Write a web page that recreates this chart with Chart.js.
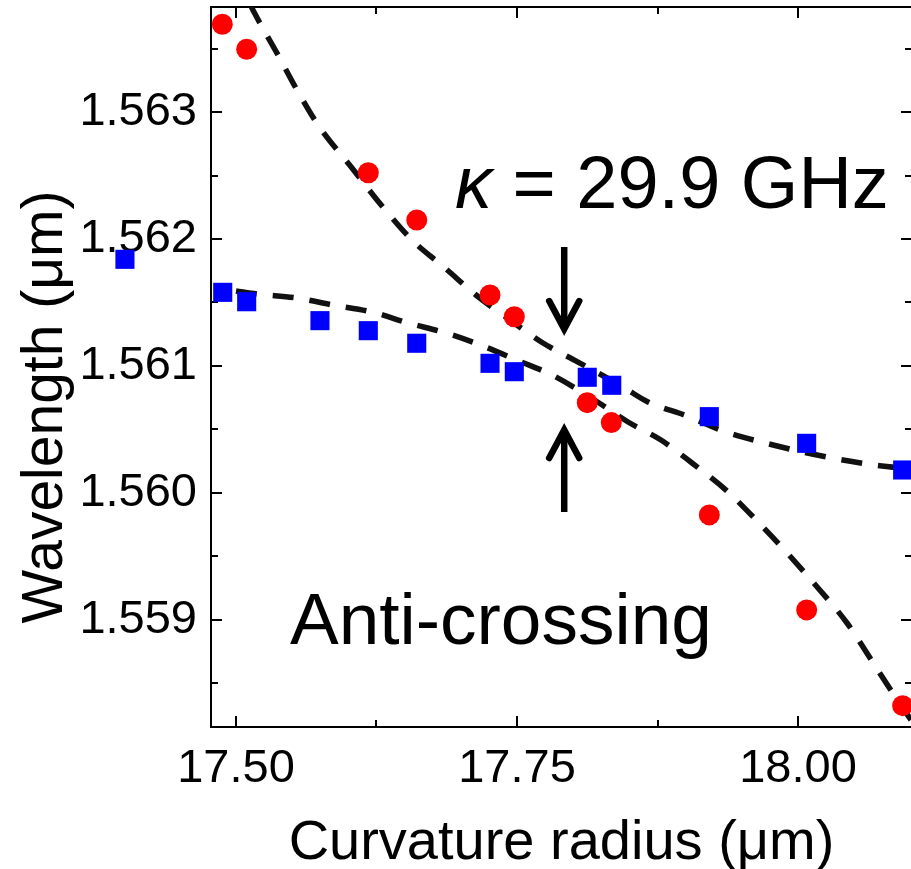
<!DOCTYPE html>
<html>
<head>
<meta charset="utf-8">
<script src="https://cdn.jsdelivr.net/npm/chart.js@4.4.0/dist/chart.umd.min.js"></script>
<style>
html, body { margin: 0; padding: 0; background: #fff; overflow: hidden; }
</style>
</head>
<body>
<canvas id="chart" width="914" height="869"></canvas>
<script>
// measured resonances (red = one mode, blue = the other)
var redX = [17.4878, 17.5095, 17.6177, 17.6608, 17.7260, 17.7476, 17.8125, 17.8339, 17.9211, 18.0077, 18.0931];
var redY = [1.563691, 1.563494, 1.562522, 1.562150, 1.561559, 1.561388, 1.560711, 1.560554, 1.559827, 1.559079, 1.558325];

var blueX = [17.4012, 17.4882, 17.5095, 17.5747, 17.6177, 17.6608, 17.7260, 17.7476, 17.8125, 17.8343, 17.9211, 18.0077, 18.0931];
var blueY = [1.561840, 1.561580, 1.561506, 1.561357, 1.561278, 1.561179, 1.561021, 1.560955, 1.560911, 1.560848, 1.560601, 1.560391, 1.560181];

// fitted branches
var upperFitX = [17.5125, 17.5160, 17.5374, 17.5543, 17.5730, 17.6032, 17.6299, 17.6566, 17.6859, 17.7135, 17.7438, 17.7731, 17.8043, 17.8443, 17.8665, 17.9012, 17.9333, 17.9671, 18.0000, 18.0347, 18.0685, 18.1005];
var upperFitY = [1.563850, 1.563787, 1.563449, 1.563173, 1.562898, 1.562559, 1.562260, 1.561992, 1.561772, 1.561559, 1.561362, 1.561181, 1.561031, 1.560835, 1.560717, 1.560606, 1.560488, 1.560402, 1.560331, 1.560268, 1.560220, 1.560189];

var lowerFitX = [17.5000, 17.5187, 17.5543, 17.5863, 17.6210, 17.6530, 17.6868, 17.7198, 17.7518, 17.7829, 17.8203, 17.8488, 17.8781, 17.9057, 17.9368, 17.9644, 17.9911, 18.0178, 18.0436, 18.0658, 18.0854, 18.1005];
var lowerFitY = [1.561591, 1.561567, 1.561535, 1.561480, 1.561425, 1.561339, 1.561260, 1.561157, 1.561039, 1.560921, 1.560724, 1.560559, 1.560417, 1.560236, 1.560016, 1.559772, 1.559520, 1.559252, 1.558976, 1.558677, 1.558409, 1.558213];

var xRange = [17.47776, 18.10142];
var yRange = [1.558157, 1.563827];
var xTicks = [17.50, 17.75, 18.00];
var xTickLabels = ["17.50", "17.75", "18.00"];
var xMinorTicks = [17.625, 17.875];
var yTicks = [1.559, 1.560, 1.561, 1.562, 1.563];
var yTickLabels = ["1.559", "1.560", "1.561", "1.562", "1.563"];
var yMinorTicks = [1.5585, 1.5595, 1.5605, 1.5615, 1.5625, 1.5635];

var xTitle = "Curvature radius (\u03bcm)";
var yTitle = "Wavelength (\u03bcm)";

var FONT = "'Liberation Sans', Arial, sans-serif";

function toPoints(xs, ys) {
    var pts = [];
    for (let i = 0; i < xs.length; i++) {
        pts.push({x: xs[i], y: ys[i]});
    }
    return pts;
}

// frame with inward ticks on all four sides
var framePlugin = {
    id: "frame",
    beforeDatasetsDraw: function(chart) {
        var ctx = chart.ctx;
        var a = chart.chartArea;
        var xs = chart.scales.x;
        var ys = chart.scales.y;
        ctx.save();
        ctx.strokeStyle = "#000";
        ctx.lineWidth = 2;
        ctx.strokeRect(a.left, a.top, a.right - a.left, a.bottom - a.top);

        function xTick(v, len) {
            var px = Math.round(xs.getPixelForValue(v));
            ctx.beginPath();
            ctx.moveTo(px, a.bottom); ctx.lineTo(px, a.bottom - len);
            ctx.moveTo(px, a.top); ctx.lineTo(px, a.top + len);
            ctx.stroke();
        }
        function yTick(v, len) {
            var py = Math.round(ys.getPixelForValue(v));
            ctx.beginPath();
            ctx.moveTo(a.left, py); ctx.lineTo(a.left + len, py);
            ctx.moveTo(a.right, py); ctx.lineTo(a.right - len, py);
            ctx.stroke();
        }
        xTicks.forEach(function(v) { xTick(v, 11); });
        xMinorTicks.forEach(function(v) { xTick(v, 7); });
        yTicks.forEach(function(v) { yTick(v, 11); });
        yMinorTicks.forEach(function(v) { yTick(v, 7); });
        ctx.restore();
    },
    // points lying outside the frame are skipped by Chart.js, draw them against the whole canvas
    afterDatasetsDraw: function(chart) {
        var a = chart.chartArea;
        var whole = {left: 0, top: 0, right: chart.width, bottom: chart.height};
        chart.data.datasets.forEach(function(ds, i) {
            if (ds.clip !== false) return;
            chart.getDatasetMeta(i).data.forEach(function(el) {
                if (el.x < a.left || el.x > a.right || el.y < a.top || el.y > a.bottom) {
                    el.draw(chart.ctx, whole);
                }
            });
        });
    }
};

// annotation text, arrows and axis titles
var arrowX = 17.792;
var downArrow = [1.561937, 1.561291];
var upArrow = [1.559850, 1.560496];
var kappaPos = [17.6948, 1.562244];
var crossPos = [17.5480, 1.558811];

var notesPlugin = {
    id: "notes",
    afterDraw: function(chart) {
        var ctx = chart.ctx;
        var xs = chart.scales.x;
        var ys = chart.scales.y;
        ctx.save();
        ctx.fillStyle = "#000";
        ctx.strokeStyle = "#000";

        function arrow(from, to) {
            var px = xs.getPixelForValue(arrowX);
            var y0 = ys.getPixelForValue(from);
            var y1 = ys.getPixelForValue(to);
            var dir = y1 > y0 ? 1 : -1;
            ctx.lineWidth = 6.5;
            ctx.lineCap = "butt";
            ctx.beginPath();
            ctx.moveTo(px, y0); ctx.lineTo(px, y1);
            ctx.stroke();
            ctx.lineCap = "round";
            ctx.lineJoin = "miter";
            ctx.beginPath();
            ctx.moveTo(px - 15, y1 - dir * 28);
            ctx.lineTo(px, y1);
            ctx.lineTo(px + 15, y1 - dir * 28);
            ctx.stroke();
        }
        arrow(downArrow[0], downArrow[1]);
        arrow(upArrow[0], upArrow[1]);

        ctx.textBaseline = "alphabetic";
        ctx.textAlign = "left";
        var kx = xs.getPixelForValue(kappaPos[0]);
        var ky = ys.getPixelForValue(kappaPos[1]);
        ctx.font = "italic 74px " + FONT;
        ctx.fillText("\u03ba", kx, ky);
        var kw = ctx.measureText("\u03ba").width;
        ctx.font = "74px " + FONT;
        ctx.fillText(" = 29.9 GHz", kx + kw, ky);

        ctx.font = "73px " + FONT;
        ctx.fillText("Anti-crossing", xs.getPixelForValue(crossPos[0]), ys.getPixelForValue(crossPos[1]));

        ctx.font = "56px " + FONT;
        ctx.textAlign = "center";
        ctx.fillText(xTitle, (chart.chartArea.left + chart.chartArea.right) / 2, 859);

        ctx.translate(62, 407);
        ctx.rotate(-Math.PI / 2);
        ctx.font = "57px " + FONT;
        ctx.fillText(yTitle, 0, 0);
        ctx.restore();
    }
};

var fitStyle = {
    showLine: true,
    borderColor: "#111",
    borderWidth: 5.5,
    borderDash: [21, 16],
    pointRadius: 0,
    cubicInterpolationMode: "monotone",
    clip: 0,
    order: 2
};

new Chart(document.getElementById("chart"), {
    type: "scatter",
    data: {
        datasets: [
            {label: "red", data: toPoints(redX, redY), backgroundColor: "#ff0000", borderWidth: 0,
                pointRadius: 10.5, pointStyle: "circle", clip: false, order: 0},
            {label: "blue", data: toPoints(blueX, blueY), backgroundColor: "#0000ff", borderWidth: 0,
                pointRadius: 13.5, pointStyle: "rect", clip: false, order: 1},
            Object.assign({label: "upper fit", data: toPoints(upperFitX, upperFitY)}, fitStyle),
            Object.assign({label: "lower fit", data: toPoints(lowerFitX, lowerFitY)}, fitStyle)
        ]
    },
    options: {
        responsive: false,
        animation: false,
        layout: {autoPadding: false, padding: {top: 7, right: 2, left: 0, bottom: 0}},
        plugins: {legend: {display: false}, tooltip: {enabled: false}},
        scales: {
            x: {
                type: "linear",
                bounds: "data",
                grid: {display: false, drawTicks: false},
                border: {display: false},
                // range set here (not min/max) so the point left of the frame is not trimmed
                afterDataLimits: function(scale) {
                    scale.min = xRange[0];
                    scale.max = xRange[1];
                },
                afterBuildTicks: function(scale) {
                    scale.min = xRange[0];
                    scale.max = xRange[1];
                    scale.ticks = xTicks.map(function(v) { return {value: v}; });
                },
                afterFit: function(scale) {
                    scale.height = 142;
                    scale.paddingLeft = 0;
                    scale.paddingRight = 0;
                },
                ticks: {
                    autoSkip: false,
                    maxRotation: 0,
                    padding: 14,
                    color: "#000",
                    font: {family: FONT, size: 47},
                    callback: function(v, i) { return xTickLabels[i]; }
                }
            },
            y: {
                type: "linear",
                bounds: "data",
                grid: {display: false, drawTicks: false},
                border: {display: false},
                afterDataLimits: function(scale) {
                    scale.min = yRange[0];
                    scale.max = yRange[1];
                },
                afterBuildTicks: function(scale) {
                    scale.min = yRange[0];
                    scale.max = yRange[1];
                    scale.ticks = yTicks.map(function(v) { return {value: v}; });
                },
                afterFit: function(scale) {
                    scale.width = 211;
                    scale.paddingTop = 0;
                    scale.paddingBottom = 0;
                },
                ticks: {
                    autoSkip: false,
                    padding: 14,
                    color: "#000",
                    font: {family: FONT, size: 47},
                    callback: function(v, i) { return yTickLabels[i]; }
                }
            }
        }
    },
    plugins: [framePlugin, notesPlugin]
});
</script>
</body>
</html>
